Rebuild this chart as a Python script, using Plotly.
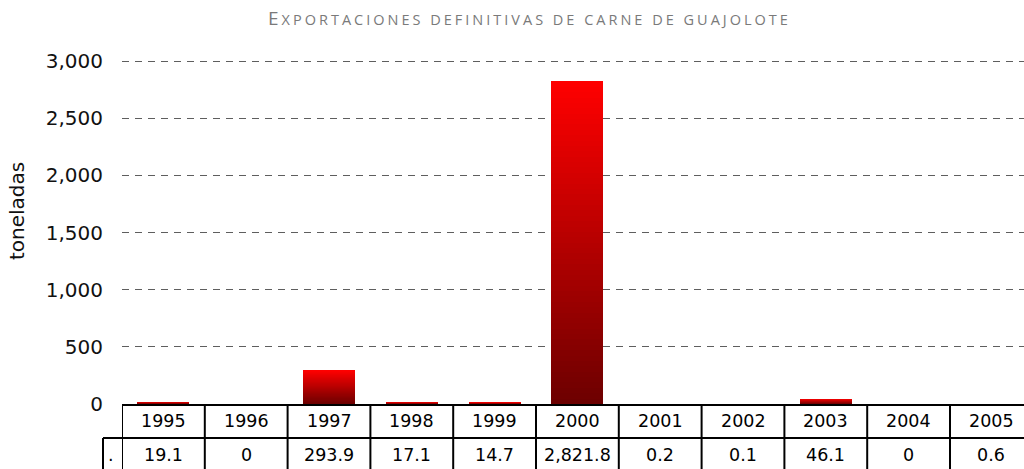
import plotly.graph_objects as go

# Exportaciones definitivas de carne de guajolote (toneladas)
years = ["1995", "1996", "1997", "1998", "1999", "2000",
         "2001", "2002", "2003", "2004", "2005"]
values = [19.1, 0, 293.9, 17.1, 14.7, 2821.8, 0.2, 0.1, 46.1, 0, 0.6]
value_labels = ["19.1", "0", "293.9", "17.1", "14.7", "2,821.8",
                "0.2", "0.1", "46.1", "0", "0.6"]
y_ticks = [0, 500, 1000, 1500, 2000, 2500, 3000]

W, H = 1024, 469
M_L, M_R, M_T, M_B = 122, 0, 39, 65
PLOT_H = H - M_T - M_B
PLOT_W = W - M_L - M_R
COL_PX = 82.8  # width of one category column in pixels
X_MAX = -0.5 + PLOT_W / COL_PX

FONT = "DejaVu Sans"
TABLE_SIZE = 17.5


def py(px):
    """pixel row -> paper y"""
    return (H - M_B - px) / PLOT_H


def pxx(px):
    """pixel column -> paper x"""
    return (px - M_L) / PLOT_W


x_idx = list(range(len(years)))

# vertical red gradient inside each bar: stacked slices, dark at the base
N = 60
bottom = (108, 0, 0)
top = (255, 0, 0)
fig = go.Figure()
for i in range(N):
    t = (i + 0.5) / N
    r = round(bottom[0] + (top[0] - bottom[0]) * t)
    fig.add_trace(go.Bar(
        x=x_idx,
        y=[v / N for v in values],
        width=0.63,
        # alpha just under 1 keeps slice edges snapped to whole pixels
        # without stretching sub-pixel slices to a visible line
        marker=dict(color=f"rgba({r},0,0,0.999)", line=dict(width=0)),
        showlegend=False,
        hoverinfo="skip",
    ))

shapes = []
# data table grid under the axis
y_row1 = H - M_B          # axis line
y_row2 = 438
y_end = H + 5
for k in range(len(years)):
    xb = k - 0.5
    if xb <= X_MAX:
        shapes.append(dict(type="line", xref="x", yref="paper",
                           x0=xb, x1=xb, y0=py(y_row1), y1=py(y_end),
                           line=dict(color="black", width=2)))
# legend-key cell at the left of the value row
shapes.append(dict(type="line", xref="paper", yref="paper",
                   x0=pxx(103), x1=pxx(103), y0=py(y_row2), y1=py(y_end),
                   line=dict(color="black", width=2)))
shapes.append(dict(type="line", xref="paper", yref="paper",
                   x0=pxx(103), x1=1.0, y0=py(y_row2), y1=py(y_row2),
                   line=dict(color="black", width=2)))

annotations = []
for i, (yr, lab) in enumerate(zip(years, value_labels)):
    annotations.append(dict(x=i, y=py(421), xref="x", yref="paper",
                            text=yr, showarrow=False,
                            font=dict(family=FONT, size=TABLE_SIZE, color="black"),
                            xanchor="center", yanchor="middle"))
    annotations.append(dict(x=i, y=py(455), xref="x", yref="paper",
                            text=lab, showarrow=False,
                            font=dict(family=FONT, size=TABLE_SIZE, color="black"),
                            xanchor="center", yanchor="middle"))
annotations.append(dict(x=pxx(111), y=py(455), xref="paper", yref="paper",
                        text=".", showarrow=False,
                        font=dict(family=FONT, size=TABLE_SIZE, color="black"),
                        xanchor="center", yanchor="middle"))
# y-axis title
annotations.append(dict(x=pxx(17), y=py(211), xref="paper", yref="paper",
                        text="toneladas", textangle=-90, showarrow=False,
                        font=dict(family=FONT, size=20, color="#111111"),
                        xanchor="center", yanchor="middle"))
# chart title in small caps
annotations.append(dict(
    x=pxx(529), y=py(18), xref="paper", yref="paper",
    text=("<span style='letter-spacing:3px'>E"
          "<span style='font-size:14.5px'>XPORTACIONES DEFINITIVAS DE CARNE "
          "DE GUAJOLOTE</span></span>"),
    showarrow=False,
    font=dict(family="Open Sans", size=19, color="#7a7a7a"),
    xanchor="center", yanchor="middle"))

fig.update_layout(
    width=W, height=H,
    margin=dict(l=M_L, r=M_R, t=M_T, b=M_B, pad=0),
    paper_bgcolor="white", plot_bgcolor="white",
    barmode="stack", bargap=0,
    shapes=shapes, annotations=annotations,
    xaxis=dict(range=[-0.5, X_MAX], showticklabels=False, ticks="",
               showgrid=False, zeroline=False, showline=True,
               linecolor="black", linewidth=2, fixedrange=True),
    yaxis=dict(range=[0, 3000 * PLOT_H / 343], tickvals=y_ticks,
               tickformat=",", showgrid=True, gridcolor="#5e5e5e",
               gridwidth=1, griddash="7px,6px", zeroline=False,
               showline=False, ticks="", ticklabelstandoff=18,
               tickfont=dict(family=FONT, size=20, color="#111111"),
               fixedrange=True),
)

fig.write_html("out.html", config={"displayModeBar": False})
